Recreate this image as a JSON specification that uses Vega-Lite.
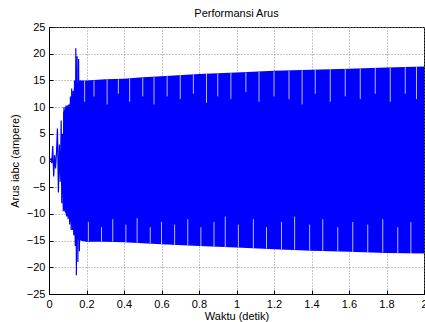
{
  "$schema": "https://vega.github.io/schema/vega-lite/v6.json",
  "width": 375,
  "height": 267,
  "autosize": {"type": "none"},
  "padding": {"left": 49, "top": 27, "right": 1, "bottom": 28},
  "title": {"text": "Performansi Arus", "fontSize": 11, "font": "Liberation Sans", "fontWeight": "normal", "offset": 2, "anchor": "middle", "color": "#000"},
  "config": {
    "view": {"stroke": "#000", "strokeWidth": 1},
    "axis": {
      "labelFont": "Liberation Sans", "labelFontSize": 11, "labelColor": "#000",
      "titleFont": "Liberation Sans", "titleFontSize": 11, "titleFontWeight": "normal", "titleColor": "#000",
      "domainColor": "#000", "tickColor": "#000", "tickSize": -4,
      "gridColor": "#8a8a8a", "gridDash": [1, 2], "gridOpacity": 1, "gridWidth": 1,
      "labelOverlap": false, "labelFlush": false
    }
  },
  "encoding": {
    "x": {"field": "t", "type": "quantitative", "scale": {"domain": [0, 2], "nice": false},
      "axis": {"values": [0, 0.2, 0.4, 0.6, 0.8, 1, 1.2, 1.4, 1.6, 1.8, 2], "tickCount": 11, "format": "~g", "title": "Waktu (detik)", "labelPadding": 8, "titlePadding": 1}}
  },
  "layer": [
    {
      "data": {"values": [
        {"t": 0.075, "hi": 9, "lo": -9},
        {"t": 0.09, "hi": 10, "lo": -10},
        {"t": 0.11, "hi": 10.5, "lo": -11},
        {"t": 0.13, "hi": 13, "lo": -13},
        {"t": 0.14, "hi": 14, "lo": -14.5},
        {"t": 0.165, "hi": 15, "lo": -15},
        {"t": 0.2, "hi": 15, "lo": -15.2},
        {"t": 0.3, "hi": 15.2, "lo": -15.2},
        {"t": 0.4, "hi": 15.3, "lo": -15.3},
        {"t": 0.5, "hi": 15.6, "lo": -15.5},
        {"t": 0.6, "hi": 15.8, "lo": -15.7},
        {"t": 0.8, "hi": 16.2, "lo": -16},
        {"t": 1.0, "hi": 16.5, "lo": -16.3},
        {"t": 1.2, "hi": 16.8, "lo": -16.6},
        {"t": 1.4, "hi": 17, "lo": -16.9},
        {"t": 1.6, "hi": 17.2, "lo": -17.1},
        {"t": 1.8, "hi": 17.4, "lo": -17.3},
        {"t": 2.0, "hi": 17.6, "lo": -17.4}
      ]},
      "mark": {"type": "area", "color": "#0000ff", "opacity": 1},
      "encoding": {
        "y": {"field": "hi", "type": "quantitative", "scale": {"domain": [-25, 25], "nice": false},
          "axis": {"values": [-25, -20, -15, -10, -5, 0, 5, 10, 15, 20, 25], "tickCount": 11, "title": "Arus iabc (ampere)", "labelPadding": 8, "titlePadding": 6}},
        "y2": {"field": "lo"}
      }
    },
    {
      "data": {"values": [
        {"t": 0.19, "a": 15, "b": 11}, {"t": 0.24, "a": 15, "b": 12}, {"t": 0.31, "a": 15.2, "b": 10.5}, {"t": 0.37, "a": 15.2, "b": 12.5},
        {"t": 0.43, "a": 15.3, "b": 11}, {"t": 0.5, "a": 15.5, "b": 12}, {"t": 0.56, "a": 15.6, "b": 10.5}, {"t": 0.63, "a": 15.8, "b": 12},
        {"t": 0.7, "a": 16, "b": 11.5}, {"t": 0.77, "a": 16.1, "b": 12.5}, {"t": 0.84, "a": 16.2, "b": 10.8}, {"t": 0.9, "a": 16.3, "b": 12},
        {"t": 0.97, "a": 16.4, "b": 11.5}, {"t": 1.05, "a": 16.5, "b": 12.8}, {"t": 1.12, "a": 16.6, "b": 11}, {"t": 1.2, "a": 16.7, "b": 12},
        {"t": 1.28, "a": 16.8, "b": 11.5}, {"t": 1.35, "a": 16.9, "b": 10.5}, {"t": 1.42, "a": 17, "b": 12.5}, {"t": 1.5, "a": 17.1, "b": 11},
        {"t": 1.58, "a": 17.1, "b": 12}, {"t": 1.66, "a": 17.2, "b": 11.5}, {"t": 1.74, "a": 17.3, "b": 12.5}, {"t": 1.82, "a": 17.4, "b": 11},
        {"t": 1.9, "a": 17.5, "b": 12.5}, {"t": 1.96, "a": 17.5, "b": 11.5},
        {"t": 0.21, "a": -15.1, "b": -11.5}, {"t": 0.28, "a": -15.2, "b": -12.5}, {"t": 0.34, "a": -15.2, "b": -11}, {"t": 0.41, "a": -15.3, "b": -12},
        {"t": 0.47, "a": -15.4, "b": -10.8}, {"t": 0.54, "a": -15.5, "b": -12.5}, {"t": 0.6, "a": -15.7, "b": -11.5}, {"t": 0.67, "a": -15.8, "b": -12},
        {"t": 0.74, "a": -15.9, "b": -11}, {"t": 0.81, "a": -16, "b": -12.5}, {"t": 0.88, "a": -16.1, "b": -11.5}, {"t": 0.94, "a": -16.2, "b": -10.5},
        {"t": 1.01, "a": -16.3, "b": -12}, {"t": 1.09, "a": -16.4, "b": -11}, {"t": 1.16, "a": -16.5, "b": -12.5}, {"t": 1.24, "a": -16.6, "b": -11.5},
        {"t": 1.31, "a": -16.7, "b": -10.5}, {"t": 1.39, "a": -16.8, "b": -12}, {"t": 1.46, "a": -16.9, "b": -11}, {"t": 1.54, "a": -17, "b": -12.5},
        {"t": 1.62, "a": -17.1, "b": -11.5}, {"t": 1.7, "a": -17.2, "b": -12}, {"t": 1.78, "a": -17.2, "b": -11}, {"t": 1.86, "a": -17.3, "b": -12.5},
        {"t": 1.93, "a": -17.4, "b": -11.5}
      ]},
      "mark": {"type": "rule", "color": "#b8b8ff", "strokeWidth": 1},
      "encoding": {
        "y": {"field": "a", "type": "quantitative", "scale": {"domain": [-25, 25], "nice": false},
          "axis": {"values": [-25, -20, -15, -10, -5, 0, 5, 10, 15, 20, 25], "tickCount": 11, "title": "Arus iabc (ampere)", "labelPadding": 8, "titlePadding": 6}},
        "y2": {"field": "b"}
      }
    },
    {
      "data": {"values": [
        {"t": 0, "v": 0}, {"t": 0.01, "v": 0.3}, {"t": 0.015, "v": -0.5}, {"t": 0.02, "v": 2.7}, {"t": 0.025, "v": -3},
        {"t": 0.03, "v": 1}, {"t": 0.035, "v": -1.5}, {"t": 0.04, "v": 1.5}, {"t": 0.045, "v": 6}, {"t": 0.05, "v": -6},
        {"t": 0.055, "v": 3}, {"t": 0.06, "v": -4}, {"t": 0.065, "v": 7.5}, {"t": 0.068, "v": -8}, {"t": 0.072, "v": 5},
        {"t": 0.076, "v": -9.5}, {"t": 0.08, "v": 10}, {"t": 0.085, "v": -9}, {"t": 0.09, "v": 10.3}, {"t": 0.094, "v": -10.5},
        {"t": 0.098, "v": 10.3}, {"t": 0.102, "v": -11}, {"t": 0.106, "v": 10.5}, {"t": 0.11, "v": -12}, {"t": 0.114, "v": 12},
        {"t": 0.118, "v": -13}, {"t": 0.121, "v": 13.5}, {"t": 0.125, "v": -13}, {"t": 0.128, "v": 13}, {"t": 0.132, "v": -14},
        {"t": 0.136, "v": 15}, {"t": 0.14, "v": -16}, {"t": 0.143, "v": 21}, {"t": 0.146, "v": -21.5}, {"t": 0.15, "v": 19.5},
        {"t": 0.154, "v": -19}, {"t": 0.158, "v": 19}, {"t": 0.162, "v": -17}, {"t": 0.166, "v": 15}
      ]},
      "mark": {"type": "line", "color": "#0000ff", "strokeWidth": 1.2},
      "encoding": {
        "y": {"field": "v", "type": "quantitative", "scale": {"domain": [-25, 25], "nice": false},
          "axis": {"values": [-25, -20, -15, -10, -5, 0, 5, 10, 15, 20, 25], "tickCount": 11, "title": "Arus iabc (ampere)", "labelPadding": 8, "titlePadding": 6}}
      }
    }
  ]
}
